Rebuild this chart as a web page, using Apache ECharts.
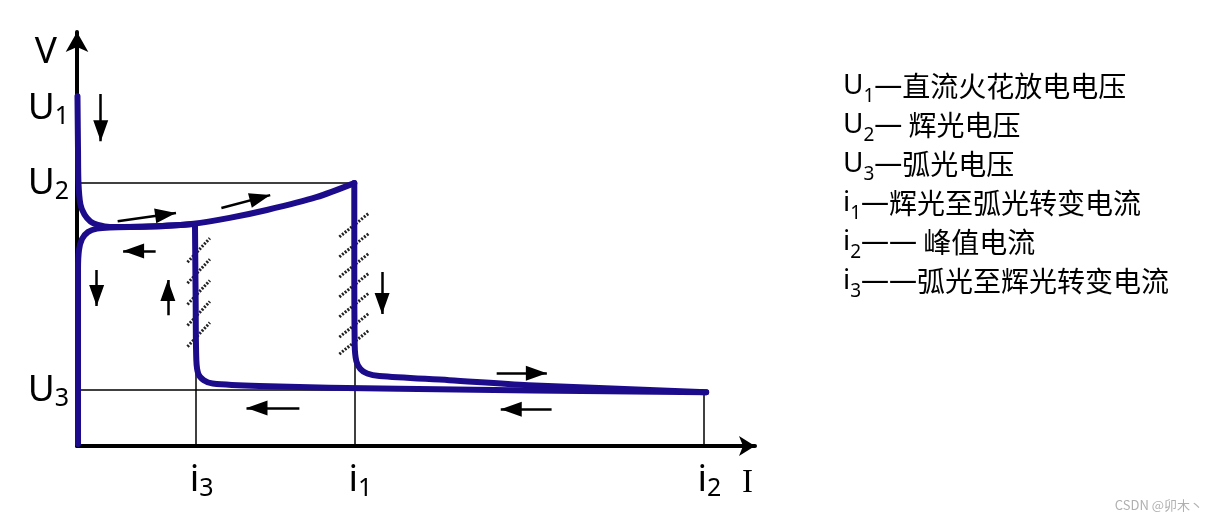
<!DOCTYPE html>
<html>
<head>
<meta charset="utf-8">
<script src="https://cdn.jsdelivr.net/npm/echarts@6/dist/echarts.min.js"></script>
<style>
  html, body { margin: 0; background: #fff; }
  #chart { width: 1214px; height: 521px; }
</style>
</head>
<body>
<div id="chart"></div>
<script>
// 伏安特性示意：I 与 V 均为相对单位 (0 ~ 100)
const iTickValues = [17.5, 40.9, 92.4]
const iTickSubs = ['3', '1', '2']
const uTickValues = [13.5, 63.5, 81.5]
const uTickSubs = ['3', '2', '1']

// 击穿 → 辉光 → i1
const glowBranch = [
  [0.07, 84.5], [0.15, 71.5], [0.22, 63.5], [0.5, 58.4], [1.1, 55.9],
  [2.0, 54.2], [3.09, 53.4], [4.85, 52.9], [10.7, 53.0], [17.2, 53.7],
  [22.5, 55.1], [28.0, 57.0], [35.3, 60.1], [40.9, 63.5],
]
// i1 跌落 → 弧光 → i2
const arcRiseBranch = [
  [40.9, 63.5], [40.9, 44.9], [40.96, 24.4], [41.2, 20.5], [41.8, 18.6],
  [42.8, 17.5], [44.6, 16.9], [54.9, 15.9], [66.6, 14.7], [92.8, 13.0],
]
// i2 → 弧光回落 → i3 上升
const arcReturnBranch = [
  [92.8, 13.0], [47.5, 13.8], [26.9, 14.5], [20.0, 15.1], [18.7, 15.9],
  [17.9, 17.4], [17.6, 20.8], [17.5, 35.3], [17.4, 53.6],
]
// 辉光回退 → 熄灭
const glowReturnBranch = [
  [17.4, 53.6], [10.7, 53.0], [4.85, 52.8], [2.94, 52.5], [1.62, 51.7],
  [0.74, 50.0], [0.29, 47.3], [0.15, 42.5], [0.15, 0.5],
]

const guideLines = [
  [[0, 63.5], [40.9, 63.5]],
  [[0, 13.5], [92.4, 13.5]],
  [[17.5, 0], [17.5, 53.6]],
  [[40.9, 0], [40.9, 63.5]],
  [[92.4, 0], [92.4, 13.2]],
]

const hatchLines = [
  [[16.3, 44.4], [19.6, 50.2]], [[16.3, 39.3], [19.6, 45.1]], [[16.3, 34.2], [19.6, 40.0]],
  [[16.3, 29.1], [19.6, 34.9]], [[16.3, 24.0], [19.6, 29.8]],
  [[38.7, 50.5], [43.1, 56.3]], [[38.7, 45.7], [43.1, 51.4]], [[38.7, 40.8], [43.1, 46.6]],
  [[38.7, 36.0], [43.1, 41.8]], [[38.7, 31.2], [43.1, 37.0]], [[38.7, 26.3], [43.1, 32.1]],
  [[38.7, 22.2], [43.1, 28.0]],
]

const directionArrows = [
  [[3.5, 85.0], [3.5, 73.6]],
  [[6.0, 54.3], [14.6, 56.3]],
  [[21.3, 57.5], [28.5, 60.6]],
  [[11.6, 47.1], [6.8, 47.1]],
  [[2.9, 42.5], [2.9, 33.8]],
  [[13.4, 31.6], [13.4, 40.1]],
  [[45.0, 42.0], [45.0, 31.9]],
  [[32.8, 9.2], [25.0, 9.2]],
  [[61.9, 17.6], [69.3, 17.6]],
  [[70.0, 8.9], [62.5, 8.9]],
]

const noteLines = [
  ['U', '1', '—', '直流火花放电电压'],
  ['U', '2', '—', ' 辉光电压'],
  ['U', '3', '—', '弧光电压'],
  ['i', '1', '—', '辉光至弧光转变电流'],
  ['i', '2', '——', ' 峰值电流'],
  ['i', '3', '——', '弧光至辉光转变电流'],
]

const CURVE = '#1c0c8c'
const LATIN = '"Noto Sans", "Open Sans", sans-serif'
const CJK = '"Noto Sans CJK SC", sans-serif'
// 箭头：上方留空一段，使三角形尖端正好落在端点
const ARROW_HEAD = 'path://M0,0L0.01,0Z M0,20L6,40L-6,40Z'

const chart = echarts.init(document.getElementById('chart'))

const curveSeries = (data) => ({
  type: 'line',
  data,
  smooth: 0.3,
  showSymbol: false,
  silent: true,
  z: 5,
  lineStyle: { color: CURVE, width: 6, cap: 'round', join: 'round' },
})

const tickRich = {
  m: { fontSize: 37, fontFamily: LATIN, color: '#000', lineHeight: 42, verticalAlign: 'middle' },
  s: { fontSize: 25, fontFamily: LATIN, color: '#000', lineHeight: 25, verticalAlign: 'bottom' },
}

const noteStyle = (size, family, lh, va) => ({
  fontSize: size, fontFamily: family, fontWeight: 'normal', color: '#000', lineHeight: lh, verticalAlign: va,
})

chart.setOption({
  animation: false,
  title: [
    {
      left: 838,
      top: 62,
      text: noteLines.map((l) => `{m|${l[0]}}{s|${l[1]}}{d|${l[2]}}{t|${l[3]}}`).join('\n'),
      textStyle: {
        fontWeight: 'normal',
        rich: {
          m: noteStyle(28, LATIN, 39, 'middle'),
          s: noteStyle(19, LATIN, 19, 'bottom'),
          d: noteStyle(28, LATIN, 39, 'middle'),
          t: noteStyle(28, CJK, 39, 'middle'),
        },
      },
    },
    {
      right: 6,
      bottom: 4,
      text: 'CSDN @卯木丶',
      textStyle: { fontSize: 13, fontWeight: 'normal', color: '#b0b0b0', fontFamily: CJK },
    },
  ],
  grid: { left: 77, right: 1214 - 755, top: 32, bottom: 521 - 446, containLabel: false },
  xAxis: {
    type: 'value',
    min: 0,
    max: 100,
    name: 'I',
    nameLocation: 'end',
    nameGap: 0,
    nameTextStyle: {
      fontSize: 33, fontFamily: '"Liberation Serif", serif', color: '#000',
      align: 'right', verticalAlign: 'top', padding: [21, 2, 0, 0],
    },
    axisLine: {
      show: true, onZero: false,
      symbol: ['none', 'arrow'], symbolSize: [15, 16],
      lineStyle: { color: '#000', width: 4 },
    },
    axisTick: { show: false },
    splitLine: { show: false },
    axisLabel: {
      customValues: iTickValues,
      margin: 13,
      formatter: (v) => `{m|i}{s|${iTickSubs[iTickValues.indexOf(v)]}}`,
      rich: {
        m: { ...tickRich.m, padding: [0, 0, 0, 12] },
        s: tickRich.s,
      },
    },
  },
  yAxis: {
    type: 'value',
    min: 0,
    max: 100,
    name: 'V',
    nameLocation: 'end',
    nameGap: -2,
    nameTextStyle: {
      fontSize: 37, fontFamily: LATIN, color: '#000',
      align: 'right', verticalAlign: 'top', padding: [0, 20, 0, 0],
    },
    axisLine: {
      show: true, onZero: false,
      symbol: ['none', 'arrow'], symbolSize: [17, 20],
      lineStyle: { color: '#000', width: 4 },
    },
    axisTick: { show: false },
    splitLine: { show: false },
    axisLabel: {
      customValues: uTickValues,
      margin: 8,
      formatter: (v) => `{m|U}{s|${uTickSubs[uTickValues.indexOf(v)]}}`,
      rich: tickRich,
    },
  },
  series: [
    {
      type: 'lines',
      coordinateSystem: 'cartesian2d',
      silent: true,
      z: 2,
      lineStyle: { color: '#000', width: 1.5, opacity: 1 },
      data: guideLines.map((c) => ({ coords: c })),
    },
    {
      type: 'lines',
      coordinateSystem: 'cartesian2d',
      silent: true,
      z: 3,
      lineStyle: { color: '#222', width: 3, type: [2, 1.5], opacity: 1 },
      data: hatchLines.map((c) => ({ coords: c })),
    },
    curveSeries(glowBranch),
    curveSeries(arcRiseBranch),
    curveSeries(arcReturnBranch),
    curveSeries(glowReturnBranch),
    {
      type: 'lines',
      coordinateSystem: 'cartesian2d',
      silent: true,
      z: 6,
      symbol: ['none', ARROW_HEAD],
      symbolSize: [1, [15, 42]],
      lineStyle: { color: '#000', width: 2.5, opacity: 1 },
      itemStyle: { color: '#000' },
      data: directionArrows.map((c) => ({ coords: c })),
    },
  ],
})
</script>
</body>
</html>
